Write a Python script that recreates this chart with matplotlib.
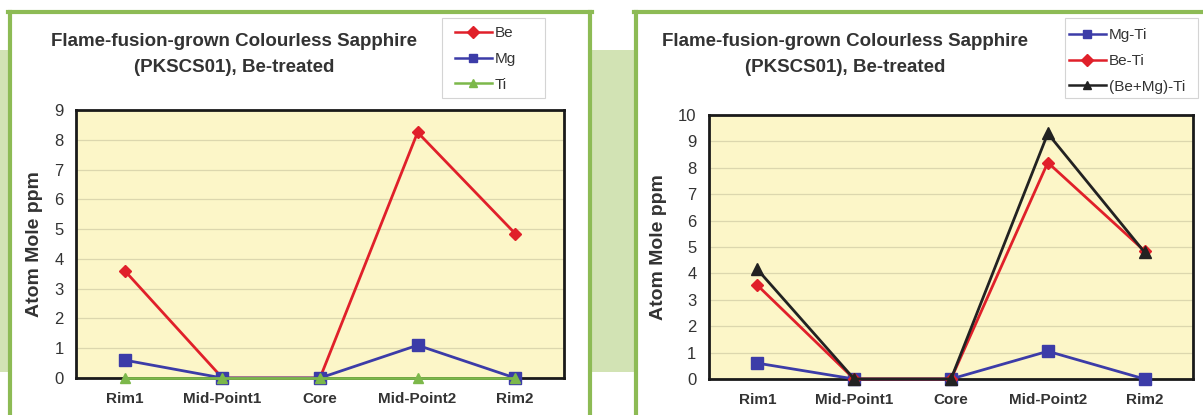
import matplotlib
matplotlib.use("Agg")
import matplotlib.pyplot as plt
from matplotlib.patches import Rectangle
from matplotlib.lines import Line2D

plt.rcParams['font.family'] = ['Liberation Sans', 'DejaVu Sans']

categories = ["Rim1", "Mid-Point1", "Core", "Mid-Point2", "Rim2"]
title_lines = ["Flame-fusion-grown Colourless Sapphire", "(PKSCS01), Be-treated"]
ylabel = "Atom Mole ppm"

# Left chart
be = [3.6, 0, 0, 8.25, 4.85]
mg = [0.6, 0, 0, 1.1, 0]
ti = [0, 0, 0, 0, 0]

# Right chart
mg_ti = [0.6, 0, 0, 1.05, 0]
be_ti = [3.55, 0, 0, 8.2, 4.85]
bemg_ti = [4.15, 0, 0, 9.3, 4.8]

W, H = 1203, 415
fig = plt.figure(figsize=(W / 100, H / 100), dpi=100)
fig.patch.set_facecolor("white")

def fx(x):
    return x / W

def fy(y):
    return 1 - y / H

# background band and panel frames
band = "#d2e3b4"
green = "#8dbb55"
fig.add_artist(Rectangle((0, fy(372)), 1, (372 - 50) / H, transform=fig.transFigure,
                         facecolor=band, edgecolor="none", zorder=0))
fig.add_artist(Rectangle((fx(10), 0), fx(590) - fx(10), fy(12), transform=fig.transFigure,
                         facecolor="white", edgecolor="none", zorder=0.5))
fig.add_artist(Rectangle((fx(636), 0), 1 - fx(636), fy(12), transform=fig.transFigure,
                         facecolor="white", edgecolor="none", zorder=0.5))
lw_b = 3.0
for (x0, y0, x1, y1) in [(10, 12, 10, 415), (8, 12, 592, 12), (590, 12, 590, 415),
                         (636, 12, 636, 415), (634, 12, 1203, 12)]:
    fig.add_artist(Line2D([fx(x0), fx(x1)], [fy(y0), fy(y1)], transform=fig.transFigure,
                          color=green, lw=lw_b, zorder=1))

RED = "#e0202a"
BLUE = "#3c3ca8"
GRN = "#7cb84a"
BLK = "#222222"
TXT = "#333333"
YEL = "#fcf6c8"
GRID = "#dcd7ae"

def style_axes(ax, ymax):
    ax.set_zorder(3)
    ax.set_facecolor(YEL)
    ax.set_xlim(-0.5, len(categories) - 0.5)
    ax.set_ylim(0, ymax)
    ax.set_yticks(range(0, ymax + 1))
    ax.set_xticks(range(len(categories)))
    ax.set_xticklabels(categories, fontsize=11, fontweight="bold", color=TXT)
    ax.tick_params(axis="y", labelsize=12, colors=TXT, length=0, pad=9)
    ax.tick_params(axis="x", length=0, pad=10)
    ax.grid(axis="y", color=GRID, lw=0.9)
    ax.set_axisbelow(True)
    for s in ax.spines.values():
        s.set_linewidth(2)
        s.set_color("#1a1a1a")

def add_title(cx):
    fig.text(fx(cx), fy(42), title_lines[0], ha="center", va="center", fontsize=13.5,
             fontweight="bold", color=TXT, zorder=4)
    fig.text(fx(cx), fy(67), title_lines[1], ha="center", va="center", fontsize=13.5,
             fontweight="bold", color=TXT, zorder=4)

def add_legend(ax, anchor, box):
    fig.add_artist(Rectangle((fx(box[0]), fy(box[3])), fx(box[2]) - fx(box[0]),
                             (box[3] - box[1]) / H, transform=fig.transFigure,
                             facecolor="white", edgecolor="#d4d4d4", lw=0.8, zorder=2))
    leg = ax.legend(loc="upper left", bbox_to_anchor=(fx(anchor[0]), fy(anchor[1])),
                    bbox_transform=fig.transFigure, frameon=False, fontsize=11,
                    handlelength=2.4, labelspacing=0.78, borderpad=0, handletextpad=0.2,
                    borderaxespad=0)
    for h in leg.legend_handles:
        h.set_markersize(6)
        h.set_linewidth(1.8)
    for t in leg.get_texts():
        t.set_color(TXT)

x = range(len(categories))

# Left
ax1 = fig.add_axes([fx(76), fy(378), fx(564) - fx(76), (378 - 110) / H])
style_axes(ax1, 9)
ax1.plot(x, be, color=RED, lw=2, marker="D", ms=6.5, label="Be", zorder=3, clip_on=False)
ax1.plot(x, mg, color=BLUE, lw=2, marker="s", ms=8, label="Mg", zorder=4, clip_on=False)
ax1.plot(x, ti, color=GRN, lw=2, marker="^", ms=7.5, label="Ti", zorder=5, clip_on=False)
ax1.set_ylabel(ylabel, fontsize=14, fontweight="bold", color=TXT, labelpad=8)
add_title(234)
add_legend(ax1, (455, 26), (442, 18, 545, 98))

# Right
ax2 = fig.add_axes([fx(709), fy(379), fx(1193) - fx(709), (379 - 115) / H])
style_axes(ax2, 10)
ax2.plot(x, mg_ti, color=BLUE, lw=2, marker="s", ms=8, label="Mg-Ti", zorder=3, clip_on=False)
ax2.plot(x, be_ti, color=RED, lw=2, marker="D", ms=6.5, label="Be-Ti", zorder=4, clip_on=False)
ax2.plot(x, bemg_ti, color=BLK, lw=2, marker="^", ms=8, label="(Be+Mg)-Ti", zorder=5, clip_on=False)
ax2.set_ylabel(ylabel, fontsize=14, fontweight="bold", color=TXT, labelpad=8)
add_title(845)
add_legend(ax2, (1069, 28), (1065, 18, 1198, 98))

fig.savefig("out.png", dpi=100, facecolor="white")
